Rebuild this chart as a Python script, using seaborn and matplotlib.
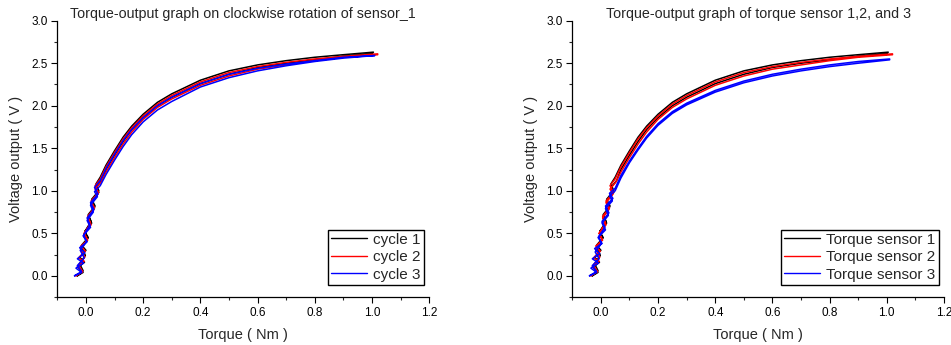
import numpy as np
import pandas as pd
import matplotlib
matplotlib.use("Agg")
import matplotlib.pyplot as plt
from matplotlib.ticker import MultipleLocator, FormatStrFormatter
import seaborn as sns

# ---- data (noisy loading branch, then unloading branch) ----
c1_torque = [-0.03, -0.01, -0.028, -0.005, -0.022, 0.0, -0.015, 0.008, -0.004, 0.02, 0.008, 0.03, 0.02,
             0.045, 0.035, 0.055, 0.07, 0.10, 0.13, 0.16, 0.20, 0.25, 0.30, 0.40, 0.50, 0.60, 0.70,
             0.80, 0.90, 1.00,
             1.005, 0.90, 0.80, 0.70, 0.60, 0.50, 0.40, 0.30, 0.25, 0.20, 0.16, 0.13, 0.10, 0.07,
             0.05, 0.035, 0.045, 0.02, 0.032, 0.008, 0.018, -0.004, 0.006, -0.015, -0.002,
             -0.022, -0.01, -0.03]
c1_volt = [0.0, 0.04, 0.10, 0.16, 0.22, 0.30, 0.36, 0.45, 0.52, 0.62, 0.70, 0.80, 0.88,
           0.98, 1.04, 1.12, 1.25, 1.42, 1.58, 1.72, 1.86, 2.00, 2.10, 2.26, 2.37, 2.45, 2.50,
           2.54, 2.58, 2.61,
           2.63, 2.60, 2.57, 2.53, 2.48, 2.41, 2.30, 2.14, 2.04, 1.90, 1.76, 1.63, 1.47, 1.30,
           1.16, 1.08, 1.00, 0.90, 0.82, 0.72, 0.64, 0.52, 0.44, 0.33, 0.24, 0.14, 0.06, 0.0]

c2_torque = [-0.035, -0.012, -0.03, -0.006, -0.026, -0.002, -0.018, 0.006, -0.006, 0.018, 0.006, 0.028, 0.018,
             0.042, 0.032, 0.052, 0.07, 0.10, 0.13, 0.16, 0.20, 0.25, 0.30, 0.40, 0.50, 0.60, 0.70,
             0.80, 0.90, 1.02,
             1.02, 0.90, 0.80, 0.70, 0.60, 0.50, 0.40, 0.30, 0.25, 0.20, 0.16, 0.13, 0.10, 0.07,
             0.05, 0.032, 0.044, 0.018, 0.03, 0.006, 0.016, -0.006, 0.004, -0.018, -0.004,
             -0.026, -0.012, -0.035]
c2_volt = [0.0, 0.05, 0.11, 0.17, 0.21, 0.29, 0.35, 0.42, 0.50, 0.60, 0.68, 0.78, 0.86,
           0.96, 1.02, 1.10, 1.22, 1.39, 1.55, 1.69, 1.84, 1.98, 2.08, 2.24, 2.35, 2.43, 2.48,
           2.53, 2.57, 2.60,
           2.61, 2.58, 2.55, 2.51, 2.46, 2.39, 2.28, 2.12, 2.02, 1.88, 1.74, 1.61, 1.45, 1.28,
           1.14, 1.06, 0.98, 0.88, 0.80, 0.70, 0.62, 0.50, 0.42, 0.31, 0.22, 0.13, 0.05, 0.0]

c3_torque = [-0.04, -0.015, -0.035, -0.008, -0.03, -0.004, -0.022, 0.004, -0.01, 0.016, 0.004, 0.026, 0.016,
             0.04, 0.03, 0.05, 0.07, 0.10, 0.13, 0.16, 0.20, 0.25, 0.30, 0.40, 0.50, 0.60, 0.70,
             0.80, 0.90, 1.01,
             1.01, 0.90, 0.80, 0.70, 0.60, 0.50, 0.40, 0.30, 0.25, 0.20, 0.16, 0.13, 0.10, 0.07,
             0.05, 0.03, 0.042, 0.016, 0.028, 0.004, 0.014, -0.008, 0.002, -0.02, -0.006,
             -0.03, -0.015, -0.04]
c3_volt = [0.0, 0.04, 0.09, 0.15, 0.20, 0.27, 0.33, 0.40, 0.47, 0.57, 0.65, 0.75, 0.83,
           0.93, 0.99, 1.06, 1.19, 1.36, 1.52, 1.66, 1.81, 1.95, 2.05, 2.22, 2.33, 2.41, 2.47,
           2.52, 2.56, 2.59,
           2.59, 2.57, 2.53, 2.49, 2.44, 2.37, 2.26, 2.10, 2.00, 1.86, 1.72, 1.59, 1.43, 1.26,
           1.12, 1.04, 0.96, 0.86, 0.78, 0.68, 0.60, 0.48, 0.40, 0.30, 0.21, 0.12, 0.05, 0.0]

s3_torque = [-0.04, -0.015, -0.035, -0.008, -0.03, -0.004, -0.022, 0.004, -0.01, 0.016, 0.004, 0.026, 0.016,
             0.04, 0.03, 0.05, 0.07, 0.10, 0.13, 0.16, 0.20, 0.25, 0.30, 0.40, 0.50, 0.60, 0.70,
             0.80, 0.90, 1.01,
             1.01, 0.90, 0.80, 0.70, 0.60, 0.50, 0.40, 0.30, 0.25, 0.20, 0.16, 0.13, 0.10, 0.07,
             0.05, 0.03, 0.042, 0.016, 0.028, 0.004, 0.014, -0.008, 0.002, -0.02, -0.006,
             -0.03, -0.015, -0.04]
s3_volt = [0.0, 0.04, 0.09, 0.15, 0.20, 0.26, 0.32, 0.38, 0.45, 0.54, 0.62, 0.71, 0.79,
           0.88, 0.94, 1.00, 1.15, 1.33, 1.48, 1.62, 1.77, 1.91, 2.01, 2.16, 2.27, 2.35, 2.41,
           2.46, 2.50, 2.54,
           2.55, 2.52, 2.48, 2.43, 2.37, 2.29, 2.18, 2.03, 1.93, 1.79, 1.64, 1.50, 1.35, 1.18,
           1.03, 0.97, 0.91, 0.82, 0.74, 0.64, 0.57, 0.46, 0.38, 0.28, 0.20, 0.12, 0.05, 0.0]

left_labels = ["cycle 1", "cycle 2", "cycle 3"]
right_labels = ["Torque sensor 1", "Torque sensor 2", "Torque sensor 3"]
colors = ["#000000", "#ff0000", "#0000ff"]

left_title = "Torque-output graph on clockwise rotation of sensor_1"
right_title = "Torque-output graph of torque sensor 1,2, and 3"


def make_df(series, labels):
    frames = []
    for (t, v), lab in zip(series, labels):
        frames.append(pd.DataFrame({"Torque": t, "Voltage": v, "Series": lab}))
    return pd.concat(frames, ignore_index=True)


df_left = make_df([(c1_torque, c1_volt), (c2_torque, c2_volt), (c3_torque, c3_volt)], left_labels)
df_right = make_df([(c1_torque, c1_volt), (c2_torque, c2_volt), (s3_torque, s3_volt)], right_labels)

sns.set_theme(style="ticks")
plt.rcParams["font.family"] = ["Liberation Sans", "DejaVu Sans"]

fig = plt.figure(figsize=(9.51, 3.45), dpi=100)
ax1 = fig.add_axes([0.0603, 0.139, 0.391, 0.801])
ax2 = fig.add_axes([0.6018, 0.139, 0.3908, 0.801])

for ax, df, labels, title in [(ax1, df_left, left_labels, left_title),
                              (ax2, df_right, right_labels, right_title)]:
    sns.lineplot(data=df, x="Torque", y="Voltage", hue="Series", hue_order=labels,
                 palette=colors, sort=False, estimator=None, units="Series",
                 linewidth=1.1, ax=ax, legend=True)
    ax.set_xlim(-0.1, 1.2)
    ax.set_ylim(-0.25, 3.0)
    ax.xaxis.set_major_locator(MultipleLocator(0.2))
    ax.xaxis.set_minor_locator(MultipleLocator(0.1))
    ax.yaxis.set_major_locator(MultipleLocator(0.5))
    ax.yaxis.set_minor_locator(MultipleLocator(0.25))
    ax.xaxis.set_major_formatter(FormatStrFormatter("%.1f"))
    ax.yaxis.set_major_formatter(FormatStrFormatter("%.1f"))
    ax.tick_params(axis="both", which="major", length=4, width=0.8, labelsize=8.5,
                   colors="black", pad=3)
    ax.tick_params(axis="both", which="minor", length=2, width=0.8)
    sns.despine(ax=ax)
    for s in ["left", "bottom"]:
        ax.spines[s].set_color("black")
        ax.spines[s].set_linewidth(0.9)
    ax.set_xlabel("Torque ( Nm )", fontsize=10.5, labelpad=7)
    ax.set_ylabel("Voltage output ( V )", fontsize=10.5, labelpad=6)
    ax.set_title(title, fontsize=10.3, pad=-2)
    leg = ax.legend(loc="lower right", fontsize=11, frameon=True, fancybox=False,
                    edgecolor="black", framealpha=1, handlelength=2.3,
                    borderpad=0.2, labelspacing=0.22, handletextpad=0.45,
                    borderaxespad=0.0, bbox_to_anchor=(0.986, 0.045))
    leg.get_frame().set_linewidth(1.0)
    for h in leg.get_lines():
        h.set_linewidth(1.0)

fig.savefig("out.png", dpi=100)
